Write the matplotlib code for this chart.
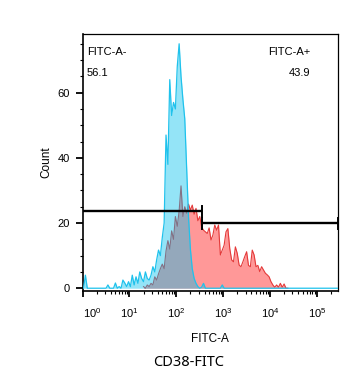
import numpy as np
import matplotlib
matplotlib.use('Agg')
import matplotlib.pyplot as plt
from matplotlib.ticker import MultipleLocator, FixedLocator, LogLocator, FuncFormatter, NullFormatter
from matplotlib.transforms import ScaledTranslation

# ---- data (histogram counts per 0.04-decade bin of FITC-A) ----
bin_width_dec = 0.04
cyan_start_dec = 0.0
cyan_counts = [0, 4, 0, 0, 0, 0, 0, 0, 0, 0,
               0, 0, 0, 1, 0, 0, 0, 1.6, 0, 0.5,
               0, 2.5, 1.6, 0.5, 2, 0.5, 4, 1, 3.5, 1.5,
               5, 3, 2, 5, 3, 2.5, 4, 6.6, 5, 8.7,
               11.7, 10, 15.5, 20, 47, 38, 64, 53, 57, 55,
               68, 75, 65, 58, 52, 37, 22, 12, 6, 3,
               1.5, 0.5, 0, 0.3, 1.5, 0, 0, 0, 0, 0,
               0, 0, 0, 0, 1, 0, 0, 0, 0, 0]
red_start_dec = 1.28
red_counts = [0.5, 0, 1, 0.5, 1.5, 1, 3.5, 2.5, 4.4, 6,
              7.4, 6, 11.4, 14.6, 12, 17.6, 15, 22, 19, 23.7,
              31.4, 22, 25, 23, 25.8, 24, 25.5, 22.7, 24.5, 20.7,
              22, 18.8, 17.8, 17.3, 16.8, 18.5, 14.8, 16.3, 19.4, 17.8,
              19.4, 10.2, 11.7, 13.2, 17.3, 18.3, 12.2, 8.7, 8.1, 12.7,
              10.7, 7.1, 6.6, 8.1, 9.7, 11.2, 7, 6.6, 11.7, 10.2,
              6.6, 7, 5.1, 6.6, 5.6, 4.6, 4.1, 3.5, 2, 1,
              0.3, 1, 0.3, 1.5, 0.3, 1.3, 0, 0]
x_range_dec = (0.0, 5.45)
y_range = (-0.7, 78)
xtick_exponents = [0, 1, 2, 3, 4, 5]
yticks = [0, 20, 40, 60]
gate_split = 360
gate_left_y = 23.6
gate_right_y = 19.9
gate_names = ['FITC-A-', 'FITC-A+']
gate_pcts = ['56.1', '43.9']
x_title = 'FITC-A'
y_title = 'Count'
caption = 'CD38-FITC'

plt.rcParams['font.family'] = ['Liberation Sans', 'DejaVu Sans']
plt.rcParams['mathtext.fontset'] = 'custom'
plt.rcParams['mathtext.rm'] = 'Liberation Sans'
plt.rcParams['mathtext.it'] = 'Liberation Sans:italic'
plt.rcParams['mathtext.bf'] = 'Liberation Sans:bold'

fig = plt.figure(figsize=(3.5, 3.82), dpi=100)
ax = fig.add_axes([82.6 / 350, 1 - 290.5 / 382, (338 - 82.6) / 350, (290.5 - 34) / 382])


def centers(start, n):
    return 10 ** (start + bin_width_dec * (np.arange(n) + 0.5))


xmin, xmax = 10 ** x_range_dec[0], 10 ** x_range_dec[1]
cx = np.concatenate([[xmin], centers(cyan_start_dec, len(cyan_counts)), [xmax]])
cc = np.concatenate([[0], cyan_counts, [0]])
rx = centers(red_start_dec, len(red_counts))
rc = np.array(red_counts, dtype=float)

# red population (under)
ax.fill_between(rx, 0, rc, color='#ff9898', lw=0, zorder=1)
ax.plot(rx, rc, color='#e43a3a', lw=0.8, zorder=2)
# cyan population (over, translucent)
ax.fill_between(cx, 0, cc, color=(0.0, 0.75, 0.93), alpha=0.42, lw=0, zorder=3)
ax.plot(cx, cc, color='#1fc2ec', lw=0.9, zorder=4)

# gates
ax.plot([xmin * 0.5, gate_split], [gate_left_y] * 2, color='k', lw=1.7, zorder=6, solid_capstyle='butt')
ax.plot([gate_split] * 2, [gate_left_y - 1.6, gate_left_y + 1.6], color='k', lw=1.4, zorder=6)
ax.plot([gate_split, xmax], [gate_right_y] * 2, color='k', lw=1.7, zorder=6, solid_capstyle='butt')
ax.plot([gate_split] * 2, [gate_right_y - 1.6, gate_right_y + 1.6], color='k', lw=1.4, zorder=6)
ax.plot([xmax] * 2, [gate_right_y - 1.6, gate_right_y + 1.6], color='k', lw=1.4, zorder=6, clip_on=False)

ax.text(0.016, 0.93, gate_names[0], transform=ax.transAxes, ha='left', va='center', fontsize=8)
ax.text(0.016, 0.848, gate_pcts[0], transform=ax.transAxes, ha='left', va='center', fontsize=8)
ax.text(0.893, 0.93, gate_names[1], transform=ax.transAxes, ha='right', va='center', fontsize=8)
ax.text(0.893, 0.848, gate_pcts[1], transform=ax.transAxes, ha='right', va='center', fontsize=8)

ax.set_xscale('log')
ax.set_xlim(xmin, xmax)
ax.set_ylim(*y_range)
ax.xaxis.set_major_locator(FixedLocator([10.0 ** e for e in xtick_exponents]))
ax.xaxis.set_major_formatter(FuncFormatter(lambda v, p: '$10^{%d}$' % int(round(np.log10(v)))))
ax.xaxis.set_minor_locator(LogLocator(base=10, subs=np.arange(2, 10), numticks=30))
ax.xaxis.set_minor_formatter(NullFormatter())
ax.set_yticks(yticks)
ax.yaxis.set_minor_locator(MultipleLocator(5))

ax.tick_params(axis='y', which='major', direction='out', length=5, width=1.3, pad=4, labelsize=8)
ax.tick_params(axis='x', which='major', direction='out', length=4, width=1.3, pad=7, labelsize=8)
ax.tick_params(which='minor', direction='out', length=2.2, width=0.8)
for s in ['left', 'bottom']:
    ax.spines[s].set_linewidth(1.2)
for s in ['top', 'right']:
    ax.spines[s].set_linewidth(0.9)

ax.set_ylabel(y_title, fontsize=8.5, labelpad=4)
ax.set_xlabel(x_title, fontsize=8.5, labelpad=9.5)
fig.text(189 / 350, 1 - 362 / 382, caption, ha='center', va='center', fontsize=10.5, family=['Noto Sans', 'DejaVu Sans'])

fig.canvas.draw()
lab = ax.xaxis.get_majorticklabels()[0]
lab.set_transform(lab.get_transform() + ScaledTranslation(10 / 100, 0, fig.dpi_scale_trans))

fig.savefig('out.png', dpi=100)
